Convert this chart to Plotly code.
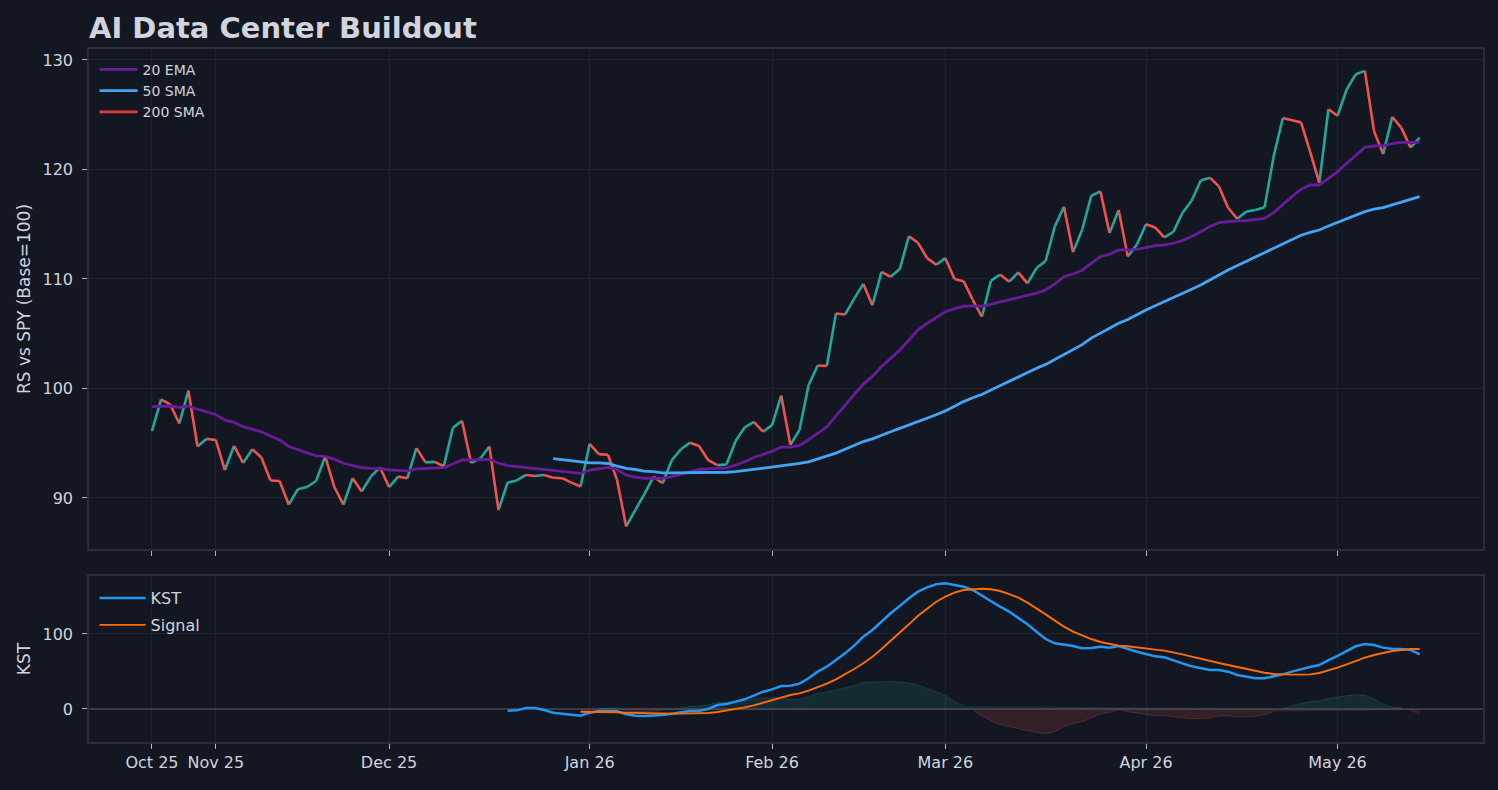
import plotly.graph_objects as go
from plotly.subplots import make_subplots

# x axis = trading day index, month labels placed on first session of each month
month_labels = ['Oct 25', 'Nov 25', 'Dec 25', 'Jan 26', 'Feb 26', 'Mar 26', 'Apr 26', 'May 26']
month_pos = [0, 7, 26, 48, 68, 87, 109, 130]

# relative strength vs SPY (base 100)
rs = [96.1, 99.0, 98.55, 96.8, 99.8, 94.7, 95.4, 95.3, 92.55, 94.75,
      93.2, 94.45, 93.7, 91.6, 91.55, 89.4, 90.8, 91.0, 91.55, 93.8,
      91.0, 89.4, 91.8, 90.6, 91.95, 92.8, 91.0, 91.95, 91.8, 94.55,
      93.25, 93.3, 92.9, 96.4, 97.05, 93.2, 93.6, 94.7, 88.9, 91.4,
      91.6, 92.1, 92.0, 92.1, 91.85, 91.8, 91.4, 91.05, 94.95, 94.0,
      93.95, 91.65, 87.4, 88.9, 90.35, 91.95, 91.35, 93.45, 94.45, 95.05,
      94.75, 93.45, 93.0, 93.05, 95.2, 96.45, 96.95, 96.05, 96.65, 99.35,
      94.85, 96.2, 100.3, 102.1, 102.05, 106.85, 106.75, 108.2, 109.55, 107.6,
      110.65, 110.2, 110.9, 113.9, 113.3, 111.9, 111.3, 111.9, 110.0, 109.8,
      108.1, 106.55, 109.85, 110.4, 109.75, 110.6, 109.6, 111.0, 111.65, 114.8,
      116.6, 112.45, 114.5, 117.6, 118.0, 114.2, 116.3, 112.05, 113.15, 115.0,
      114.7, 113.8, 114.3, 116.05, 117.15, 119.0, 119.25, 118.45, 116.5, 115.5,
      116.15, 116.3, 116.55, 121.2, 124.7, 124.5, 124.3, 121.6, 118.8, 125.5,
      124.9, 127.3, 128.7, 129.0, 123.5, 121.4, 124.8, 123.8, 122.0, 122.9]

ema20 = [98.34, 98.4, 98.4, 98.28, 98.4, 98.1, 97.87, 97.63, 97.11, 96.9,
         96.5, 96.3, 96.05, 95.66, 95.3, 94.7, 94.4, 94.1, 93.84, 93.8,
         93.53, 93.17, 93.0, 92.77, 92.71, 92.68, 92.56, 92.5, 92.47, 92.65,
         92.71, 92.74, 92.77, 93.1, 93.47, 93.47, 93.47, 93.53, 93.17, 92.95,
         92.86, 92.77, 92.7, 92.65, 92.55, 92.45, 92.35, 92.25, 92.55, 92.7,
         92.8, 92.6, 92.1, 91.9, 91.8, 91.8, 91.8, 91.95, 92.15, 92.4,
         92.6, 92.65, 92.7, 92.75, 93.0, 93.3, 93.7, 94.0, 94.25, 94.65,
         94.65, 94.8, 95.3, 95.9, 96.5, 97.5, 98.5, 99.4, 100.4, 101.1,
         102.0, 102.75, 103.5, 104.4, 105.35, 105.95, 106.5, 107.0, 107.3, 107.5,
         107.55, 107.5, 107.7, 107.9, 108.1, 108.3, 108.45, 108.7, 109.0, 109.55,
         110.2, 110.45, 110.8, 111.45, 112.05, 112.25, 112.65, 112.65, 112.7, 112.86,
         113.04, 113.1, 113.26, 113.5, 113.87, 114.32, 114.78, 115.15, 115.24, 115.3,
         115.33, 115.42, 115.54, 116.06, 116.82, 117.52, 118.19, 118.58, 118.58, 119.19,
         119.8, 120.56, 121.32, 122.02, 122.15, 122.15, 122.36, 122.48, 122.48, 122.48]

sma50_start = 44
sma50 = [93.6, 93.5, 93.4, 93.3, 93.2, 93.2, 93.15, 92.9, 92.7, 92.6,
         92.45, 92.4, 92.3, 92.3, 92.3, 92.3, 92.35, 92.3, 92.3, 92.35,
         92.4, 92.5, 92.65, 92.75, 92.85, 92.9, 93.0, 93.15, 93.3, 93.55,
         93.8, 94.1, 94.45, 94.8, 95.15, 95.4, 95.75, 96.05, 96.35, 96.65,
         96.95, 97.25, 97.6, 97.95, 98.4, 98.8, 99.15, 99.45, 99.85, 100.25,
         100.7, 101.1, 101.5, 101.85, 102.2, 102.65, 103.1, 103.5, 104.0, 104.6,
         105.05, 105.5, 105.95, 106.3, 106.75, 107.17, 107.56, 107.93, 108.3, 108.63,
         109.06, 109.45, 109.88, 110.37, 110.82, 111.22, 111.64, 112.04, 112.44, 112.86,
         113.26, 113.65, 113.99, 114.26, 114.47, 114.84, 115.18, 115.54, 115.84, 116.15,
         116.37, 116.51, 116.76, 117.0, 117.24, 117.52]

# not enough history for a 200 SMA in this window
sma200 = [None]

kst_start = 39
kst = [-2.2, -1.8, 1.3, 1.3, -1.3, -4.9, -6.2, -7.1, -8.9, -4.9,
       -2.7, -2.7, -3.1, -7.1, -8.9, -9.3, -8.9, -8.0, -6.2, -4.4,
       -2.7, -2.2, 0.0, 5.3, 6.7, 9.8, 12.9, 17.8, 23.1, 26.2,
       30.7, 31.1, 33.8, 40.9, 49.8, 56.4, 65.3, 74.2, 84.4, 96.4,
       105.3, 116.4, 127.6, 137.3, 147.6, 156.4, 162.2, 166.2, 167.6, 165.3,
       163.1, 158.7, 151.1, 144.0, 136.4, 129.8, 121.8, 112.9, 103.1, 93.3,
       87.6, 86.2, 84.0, 80.9, 81.3, 83.0, 81.8, 84.0, 80.0, 76.4,
       73.3, 70.2, 68.9, 65.3, 60.9, 56.9, 54.2, 52.0, 52.0, 49.8,
       45.3, 42.7, 40.9, 40.9, 43.1, 46.2, 49.8, 53.3, 56.0, 58.7,
       65.3, 70.7, 77.3, 83.6, 86.7, 85.3, 81.8, 80.0, 80.0, 78.7,
       72.9]

signal_start = 47
signal = [-3.6, -3.6, -3.8, -4.0, -4.4, -4.9, -5.3, -5.8, -6.0, -6.2,
          -6.2, -6.2, -6.2, -6.2, -5.3, -4.0, -2.2, 0.0, 2.2, 4.9,
          8.0, 11.6, 15.1, 18.7, 20.9, 24.4, 28.9, 33.8, 39.6, 46.2,
          53.3, 60.9, 69.8, 80.0, 90.7, 101.8, 112.9, 124.4, 134.2, 143.1,
          149.8, 155.1, 158.7, 160.0, 160.4, 159.6, 157.3, 153.3, 148.4, 141.8,
          134.2, 126.2, 117.8, 109.8, 103.1, 97.8, 93.3, 89.3, 86.5, 84.4,
          83.6, 81.8, 80.9, 79.1, 77.8, 75.6, 72.9, 69.8, 66.7, 64.0,
          61.3, 58.7, 56.0, 53.3, 50.7, 48.4, 46.7, 45.8, 45.8, 45.8,
          46.2, 48.0, 51.1, 55.1, 59.6, 64.4, 68.4, 72.0, 75.1, 77.3,
          78.7, 80.0, 80.0]

BG = '#131722'
TXT = '#d1d4dc'
GRID = '#1f2330'
SPINE = '#2a2e39'
FONT = 'DejaVu Sans'

x_rs = list(range(len(rs)))
x_sma50 = list(range(sma50_start, sma50_start + len(sma50)))
x_kst = list(range(kst_start, kst_start + len(kst)))
x_sig = list(range(signal_start, signal_start + len(signal)))

# split the RS line into rising (teal) and falling (red) segments
up_x, up_y, dn_x, dn_y = [], [], [], []
for i in range(len(rs) - 1):
    if rs[i + 1] >= rs[i]:
        up_x += [x_rs[i], x_rs[i + 1], None]
        up_y += [rs[i], rs[i + 1], None]
    else:
        dn_x += [x_rs[i], x_rs[i + 1], None]
        dn_y += [rs[i], rs[i + 1], None]

# KST histogram = KST - signal
hist = [kst[i - kst_start] - s for i, s in zip(x_sig, signal)]
h_pos = [h if h > 0 else None for h in hist]
h_neg = [h if h < 0 else None for h in hist]

fig = make_subplots(rows=2, cols=1, shared_xaxes=True)

fig.add_trace(go.Scatter(x=up_x, y=up_y, mode='lines', line=dict(color='#26a69a', width=2.6),
                         showlegend=False, hoverinfo='skip'), 1, 1)
fig.add_trace(go.Scatter(x=dn_x, y=dn_y, mode='lines', line=dict(color='#ef5350', width=2.6),
                         showlegend=False, hoverinfo='skip'), 1, 1)
fig.add_trace(go.Scatter(x=x_rs, y=ema20, mode='lines', name='20 EMA',
                         line=dict(color='#6a1b9a', width=2.8), legend='legend'), 1, 1)
fig.add_trace(go.Scatter(x=x_sma50, y=sma50, mode='lines', name='50 SMA',
                         line=dict(color='#42a5f5', width=2.8), legend='legend'), 1, 1)
fig.add_trace(go.Scatter(x=[None], y=sma200, mode='lines', name='200 SMA',
                         line=dict(color='#e53935', width=2.8), legend='legend'), 1, 1)

fig.add_trace(go.Scatter(x=x_sig, y=h_pos, mode='lines', fill='tozeroy',
                         fillcolor='rgba(38,166,154,0.14)',
                         line=dict(color='rgba(38,166,154,0.22)', width=1),
                         showlegend=False, hoverinfo='skip'), 2, 1)
fig.add_trace(go.Scatter(x=x_sig, y=h_neg, mode='lines', fill='tozeroy',
                         fillcolor='rgba(239,83,80,0.14)',
                         line=dict(color='rgba(239,83,80,0.22)', width=1),
                         showlegend=False, hoverinfo='skip'), 2, 1)
fig.add_trace(go.Scatter(x=x_kst, y=kst, mode='lines', name='KST', legendgroup='k',
                         line=dict(color='#2196f3', width=2.5), legend='legend2'), 2, 1)
fig.add_trace(go.Scatter(x=x_sig, y=signal, mode='lines', name='Signal', legendgroup='s',
                         line=dict(color='#ff6d00', width=1.9), legend='legend2'), 2, 1)

axis_common = dict(showgrid=True, gridcolor=GRID, gridwidth=1, showline=True, mirror=True,
                   linecolor=SPINE, linewidth=1.5, ticks='outside', ticklen=5, tickwidth=1,
                   tickcolor='#b2b5be', zeroline=False, automargin=False,
                   tickfont=dict(size=16, color=TXT, family=FONT))

fig.update_xaxes(range=[-6.9, 145.95], tickmode='array', tickvals=month_pos, ticktext=month_labels,
                 **axis_common)
fig.update_xaxes(showticklabels=False, row=1, col=1)

fig.update_layout(
    width=1498, height=790,
    paper_bgcolor=BG, plot_bgcolor=BG,
    font=dict(family=FONT, color=TXT),
    margin=dict(l=89, r=15, t=49, b=48),
    title=dict(text='<b>AI Data Center Buildout</b>', x=0, xref='paper', xanchor='left',
               y=1 - 28 / 790, yanchor='middle', font=dict(size=29, color=TXT, family=FONT)),
    yaxis=dict(domain=[0.2785, 1.0], range=[85.34, 131.0], tickvals=[90, 100, 110, 120, 130],
               title=dict(text='RS vs SPY (Base=100)', font=dict(size=17, color=TXT, family=FONT),
                          standoff=8),
               ticklabelstandoff=6, **axis_common),
    yaxis2=dict(domain=[0.0, 0.2395], range=[-44, 177.3], tickvals=[0, 100],
                title=dict(text='KST', font=dict(size=17, color=TXT, family=FONT), standoff=8),
                ticklabelstandoff=6, **{**axis_common, 'zeroline': True},
                zerolinecolor='#363a45', zerolinewidth=1.5),
    legend=dict(x=0.004, y=0.993, xanchor='left', yanchor='top', bgcolor='rgba(0,0,0,0)',
                font=dict(size=14, color=TXT, family=FONT), tracegroupgap=0, itemwidth=38),
    legend2=dict(x=0.004, y=0.232, xanchor='left', yanchor='top', bgcolor='rgba(0,0,0,0)',
                 font=dict(size=16, color=TXT, family=FONT), tracegroupgap=3, itemwidth=46),
    showlegend=True,
    hovermode=False,
)

# drop the default page margin so the figure fills the window exactly
fig.write_html("out.html", config={'displayModeBar': False},
               post_script="document.body.style.margin='0';"
                           "document.body.style.overflow='hidden';")
